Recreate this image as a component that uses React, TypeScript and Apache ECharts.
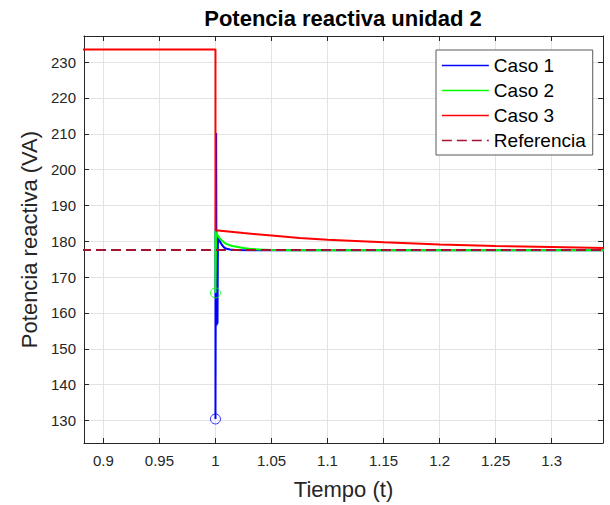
import React, { useEffect, useRef } from "react";
import * as echarts from "echarts";

// Axis ranges
const X_MIN = 0.8827;
const X_MAX = 1.3458;
const Y_MIN = 123.7;
const Y_MAX = 237.3;
const X_STEP = 0.05;
const Y_STEP = 10;

const LEGEND_NAMES = ["Caso 1", "Caso 2", "Caso 3", "Referencia"];

// Caso 1 (blue) – visible part (before t = 1 it is hidden under Caso 3)
const caso1: [number, number][] = [
  [1.0, 183.0], [1.0, 130.4], [1.0006, 210.2], [1.001, 156.5],
  [1.0014, 165.0], [1.0018, 157.0], [1.0022, 181.6], [1.004, 179.9], [1.006, 178.9],
  [1.008, 178.2], [1.01, 177.9], [1.013, 177.7], [1.018, 177.55], [1.03, 177.5],
  [1.35, 177.5],
];

// Caso 2 (green) – visible part
const caso2: [number, number][] = [
  [1.0, 183.0], [1.0, 165.6], [1.0006, 182.4], [1.0025, 181.3],
  [1.005, 180.4], [1.0075, 179.7], [1.01, 179.2], [1.015, 178.7], [1.02, 178.4],
  [1.025, 178.1], [1.03, 177.9], [1.04, 177.7], [1.05, 177.6], [1.07, 177.52],
  [1.1, 177.5], [1.35, 177.5],
];

// Caso 3 (red)
const caso3: [number, number][] = [
  [0.88, 233.5], [1.0, 233.5], [1.0, 183.1], [1.025, 182.3], [1.05, 181.6],
  [1.075, 180.9], [1.1, 180.4], [1.15, 179.7], [1.2, 179.1], [1.25, 178.7],
  [1.3, 178.4], [1.35, 178.1],
];

// Referencia (dashed)
const referencia: [number, number][] = [
  [0.88, 177.6], [1.35, 177.6],
];

// Minimum markers
const minCaso1: [number, number][] = [[1.0, 130.4]];
const minCaso2: [number, number][] = [[1.0, 165.6]];

const FONT = "'Liberation Sans', Arial, Helvetica, sans-serif";
const AXIS_COLOR = "#262626";
const GRID_COLOR = "#e3e3e3";
const LW = 2;

export default function App() {
  const ref = useRef<HTMLDivElement>(null);

  useEffect(() => {
    if (!ref.current) return;
    const chart = echarts.init(ref.current, undefined, { renderer: "svg" });

    const mainAxisCommon = {
      type: "value" as const,
      axisLine: { show: true, onZero: false, lineStyle: { color: AXIS_COLOR, width: 1 } },
      axisTick: { show: true, inside: true, length: 5, lineStyle: { color: AXIS_COLOR, width: 1 } },
      splitLine: { show: true, lineStyle: { color: GRID_COLOR, width: 1 } },
    };
    const mirrorAxisCommon = {
      type: "value" as const,
      axisLine: { show: true, onZero: false, lineStyle: { color: AXIS_COLOR, width: 1 } },
      axisTick: { show: true, inside: true, length: 5, lineStyle: { color: AXIS_COLOR, width: 1 } },
      axisLabel: { show: false },
      splitLine: { show: false },
    };

    chart.setOption({
      animation: false,
      backgroundColor: "#ffffff",
      title: {
        text: "Potencia reactiva unidad 2",
        left: 343,
        top: 7,
        textAlign: "center",
        padding: 0,
        textStyle: { fontFamily: FONT, fontSize: 22, fontWeight: "bold", color: "#000000" },
      },
      grid: { left: 84, right: 7, top: 36, bottom: 60, containLabel: false },
      legend: {
        data: LEGEND_NAMES,
        orient: "vertical",
        left: 436,
        top: 50,
        padding: [6, 7, 5, 5],
        itemGap: 6,
        itemWidth: 47,
        itemHeight: 14,
        backgroundColor: "#ffffff",
        borderColor: "#5a5a5a",
        borderWidth: 1,
        borderRadius: 0,
        lineStyle: { width: 1.7 },
        itemStyle: { opacity: 0, color: "rgba(0,0,0,0)", borderWidth: 0 },
        textStyle: { fontFamily: FONT, fontSize: 19, color: "#000000", lineHeight: 19 },
      },
      xAxis: [
        {
          ...mainAxisCommon,
          min: X_MIN,
          max: X_MAX,
          minInterval: X_STEP,
          maxInterval: X_STEP,
          splitNumber: 9,
          axisLabel: {
            show: true, margin: 10, color: AXIS_COLOR, fontSize: 15, fontFamily: FONT,
            showMinLabel: false, showMaxLabel: false,
          },
          name: "Tiempo (t)",
          nameLocation: "middle",
          nameGap: 35,
          nameTextStyle: { fontFamily: FONT, fontSize: 22, color: AXIS_COLOR },
        },
        {
          ...mirrorAxisCommon,
          position: "top",
          min: X_MIN,
          max: X_MAX,
          minInterval: X_STEP,
          maxInterval: X_STEP,
          splitNumber: 9,
        },
      ],
      yAxis: [
        {
          ...mainAxisCommon,
          min: Y_MIN,
          max: Y_MAX,
          minInterval: Y_STEP,
          maxInterval: Y_STEP,
          splitNumber: 11,
          axisLabel: {
            show: true, margin: 8, color: AXIS_COLOR, fontSize: 15, fontFamily: FONT,
            showMinLabel: false, showMaxLabel: false,
          },
          name: "Potencia reactiva (VA)",
          nameLocation: "middle",
          nameGap: 40,
          nameTextStyle: { fontFamily: FONT, fontSize: 22, color: AXIS_COLOR },
        },
        {
          ...mirrorAxisCommon,
          position: "right",
          min: Y_MIN,
          max: Y_MAX,
          minInterval: Y_STEP,
          maxInterval: Y_STEP,
          splitNumber: 11,
        },
      ],
      series: [
        {
          name: "Caso 1", type: "line", data: caso1, symbol: "none", clip: true, z: 2,
          lineStyle: { color: "#0000ff", width: LW }, itemStyle: { color: "#0000ff" },
        },
        {
          name: "Caso 2", type: "line", data: caso2, symbol: "none", clip: true, z: 3,
          lineStyle: { color: "#00ff00", width: LW }, itemStyle: { color: "#00ff00" },
        },
        {
          name: "Caso 3", type: "line", data: caso3, symbol: "none", clip: true, z: 4,
          lineStyle: { color: "#ff0000", width: LW }, itemStyle: { color: "#ff0000" },
        },
        {
          name: "Referencia", type: "line", data: referencia, symbol: "none", clip: true, z: 5,
          lineStyle: { color: "#a2142f", width: LW, type: [10, 5] }, itemStyle: { color: "#a2142f" },
        },
        {
          name: "min1", type: "scatter", data: minCaso1, symbol: "circle", symbolSize: 10, z: 6,
          itemStyle: { color: "rgba(0,0,0,0)", borderColor: "#0000ff", borderWidth: 1 },
        },
        {
          name: "min2", type: "scatter", data: minCaso2, symbol: "circle", symbolSize: 10, z: 6,
          itemStyle: { color: "rgba(0,0,0,0)", borderColor: "#00ff00", borderWidth: 1 },
        },
      ],
    });

    return () => chart.dispose();
  }, []);

  return (
    <div
      ref={ref}
      style={{ position: "fixed", left: 0, top: 0, width: 610, height: 505, background: "#fff" }}
    />
  );
}
